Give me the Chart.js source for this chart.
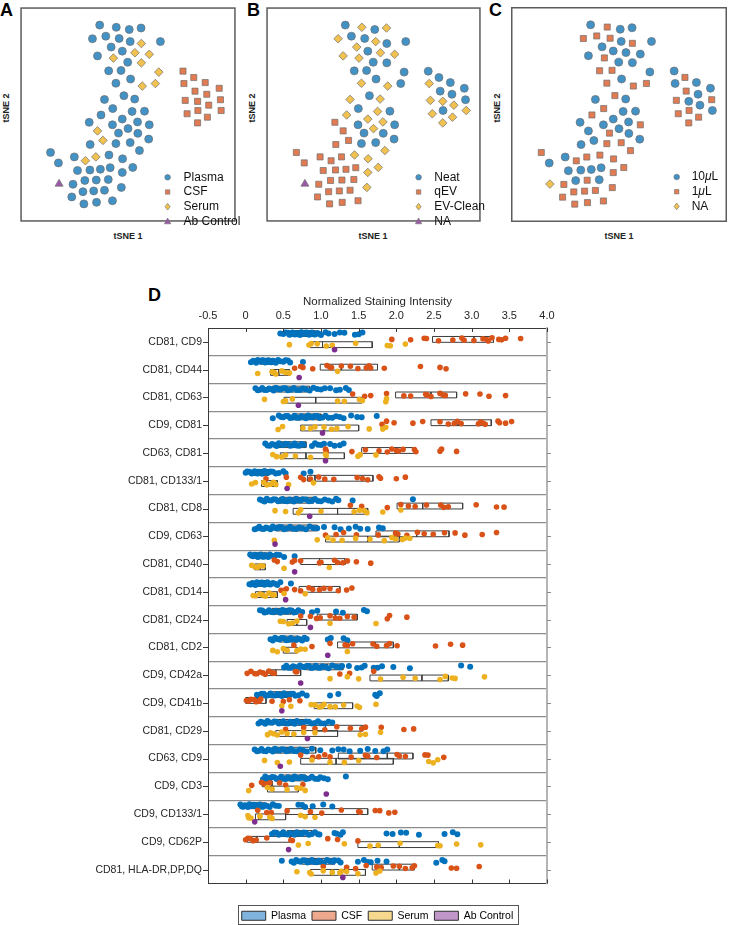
<!DOCTYPE html>
<html><head><meta charset="utf-8">
<script src="https://cdn.jsdelivr.net/npm/chart.js@4.4.1/dist/chart.umd.min.js"></script>
<style>
html,body{margin:0;padding:0;background:#fff;overflow:hidden;}
#wrap{position:relative;width:733px;height:925px;font-family:"Liberation Sans",Arial,Helvetica,sans-serif;}
.lab{position:absolute;font-weight:bold;color:#000;white-space:nowrap;}
.letter{font-size:18px;line-height:18px;}
.ax{font-size:9px;line-height:10px;color:#222;}
canvas{position:absolute;}
</style></head><body><div id="wrap">
<div class="lab letter" style="left:0px;top:1px">A</div>
<div class="lab letter" style="left:247px;top:1px">B</div>
<div class="lab letter" style="left:489px;top:1px">C</div>
<div class="lab letter" style="left:148px;top:286px">D</div>
<div class="lab ax" style="left:6px;top:108px;transform:translate(-50%,-50%) rotate(-90deg)">tSNE 2</div>
<div class="lab ax" style="left:252px;top:108px;transform:translate(-50%,-50%) rotate(-90deg)">tSNE 2</div>
<div class="lab ax" style="left:497px;top:108px;transform:translate(-50%,-50%) rotate(-90deg)">tSNE 2</div>
<div class="lab ax" style="left:128px;top:236px;transform:translate(-50%,-50%)">tSNE 1</div>
<div class="lab ax" style="left:373px;top:236px;transform:translate(-50%,-50%)">tSNE 1</div>
<div class="lab ax" style="left:619px;top:236px;transform:translate(-50%,-50%)">tSNE 1</div>
<canvas id="cA" width="226" height="225" style="left:15px;top:2px"></canvas>
<canvas id="cB" width="225" height="225" style="left:261px;top:2px"></canvas>
<canvas id="cC" width="226" height="225" style="left:506px;top:2px"></canvas>
<canvas id="cD" width="733" height="651" style="left:0px;top:280px"></canvas>
</div>
<script>
// ---------- tSNE panels (shared embedding, three colourings) ----------
const tsneX = [83.3,100.7,114.3,126.7,75.7,89.7,103.7,115.3,127,147,95.3,107,120.3,135.3,81,97.7,112.7,127,92.7,105.7,145.3,100.3,115.7,128,141.7,
 170.7,182,194,171.7,183.3,195.7,208.7,173,186,197.7,210,175,186.3,196.3,210.7,186,
 88.3,108.7,120,97,84.7,117.3,130.3,72.3,96.7,107,123,135.3,113,81,103,123.3,134.7,86.7,73.3,100.3,115.3,125,31.7,40,56.7,93,107.3,68.3,79.3,60,73,84,94.3,107,118,40.7,55.3,67.7,79.7,92.3,106,54,65.7,77,88.3,66.7,80,96.7];
const tsneY = [206.3,204,201.7,203.3,192,194.7,192.3,189,187,189,183.3,179,177.3,175.7,174,171.7,167.3,166.7,158.3,158.7,157,145.3,149.7,142.3,145,
 158,151.3,146,145,137,133.7,140,127.3,126.3,122.3,128,113.3,116.7,109.7,116.7,103.7,
 128.3,132.3,128.7,118.7,112,115.7,116,104.3,101.7,107.7,104.7,101.7,97.7,95.3,93,92.7,86.7,85.3,81,82,83,74.7,72.7,61.7,68,70,66,64,68,53.7,54.3,55,56.7,51.7,57,39.7,39.3,43.3,43.7,44.3,36,26,31.5,32.3,33,18.7,20.3,22];
const groupA = [0,0,0,0,0,0,0,0,2,0,0,0,2,2,0,2,0,2,0,0,2,0,0,2,2,
 1,1,1,1,1,1,1,1,1,1,1,1,1,1,1,1,
 0,0,0,0,0,0,0,0,0,0,0,0,0,2,0,0,0,2,0,0,0,0,0,0,0,0,0,2,2,0,0,0,0,0,0,3,0,0,0,0,0,0,0,0,0,0,0,0];
const groupB = [0,2,0,2,2,0,0,2,0,0,2,0,2,2,2,2,0,0,0,0,0,2,0,2,0,
 0,0,0,2,0,0,0,2,2,2,0,2,0,2,2,2,
 2,0,2,0,2,2,0,1,0,2,2,0,2,1,0,0,0,1,1,0,0,2,1,1,1,2,2,1,1,1,1,1,1,2,2,3,1,1,1,1,2,1,1,1,1,1,1,1];
const groupC = [0,1,0,0,1,1,1,0,1,0,0,0,0,0,0,1,0,0,1,1,0,1,0,1,1,
 0,1,0,0,1,0,0,1,0,0,1,1,1,1,0,1,
 0,1,0,1,1,0,0,0,0,0,0,1,0,0,1,0,0,0,0,1,1,1,1,0,0,1,1,1,1,0,0,0,0,1,1,2,1,0,1,0,1,1,1,1,1,1,1,1];
const legendA = ['Plasma','CSF','Serum','Ab Control'];
const legendB = ['Neat','qEV','EV-Clean','NA'];
const legendC = ['10\u03bcL','1\u03bcL','NA'];

// ---------- Panel D data ----------
const rowLabels = ['CD81, CD9','CD81, CD44','CD81, CD63','CD9, CD81','CD63, CD81','CD81, CD133/1','CD81, CD8','CD9, CD63','CD81, CD40','CD81, CD14','CD81, CD24','CD81, CD2','CD9, CD42a','CD9, CD41b','CD81, CD29','CD63, CD9','CD9, CD3','CD9, CD133/1','CD9, CD62P','CD81, HLA-DR,DP,DQ'];
const groupNames = ['Plasma','CSF','Serum','Ab Control'];
const plasmaVals = [
[0.46,0.5,0.53,0.56,0.58,0.6,0.62,0.64,0.66,0.68,0.7,0.72,0.74,0.76,0.78,0.8,0.82,0.84,0.86,0.88,0.9,0.92,0.95,0.97,1.0,1.06,1.1,1.18,1.25,1.31,1.45,1.5,1.55],
[0.07,0.1,0.12,0.14,0.16,0.18,0.2,0.22,0.24,0.26,0.28,0.3,0.32,0.34,0.36,0.38,0.4,0.43,0.46,0.5,0.53,0.56,0.59,0.76],
[0.13,0.16,0.19,0.22,0.25,0.28,0.31,0.34,0.37,0.4,0.43,0.46,0.5,0.53,0.56,0.6,0.64,0.68,0.72,0.76,0.8,0.85,0.9,0.95,1.0,1.05,1.12,1.2,1.25,1.33,1.37],
[0.36,0.44,0.47,0.5,0.53,0.56,0.59,0.62,0.65,0.68,0.71,0.74,0.77,0.8,0.83,0.86,0.89,0.92,0.95,0.98,1.02,1.06,1.1,1.15,1.2,1.25,1.3,1.4,1.48,1.54,1.74],
[0.26,0.29,0.32,0.35,0.38,0.41,0.44,0.47,0.5,0.53,0.56,0.59,0.62,0.65,0.68,0.71,0.74,0.77,0.88,0.92,0.96,1.0,1.04,1.12,1.18,1.25,1.3],
[0.0,0.02,0.05,0.08,0.1,0.12,0.14,0.16,0.18,0.2,0.22,0.25,0.28,0.3,0.33,0.36,0.4,0.44,0.5,0.53,0.77,0.86],
[0.19,0.22,0.25,0.28,0.31,0.34,0.37,0.4,0.43,0.46,0.49,0.52,0.55,0.58,0.61,0.64,0.67,0.7,0.73,0.76,0.8,0.84,0.88,0.92,0.96,1.0,1.05,1.1,1.15,1.2,1.23,1.42,2.22],
[0.12,0.15,0.18,0.21,0.24,0.27,0.3,0.33,0.36,0.39,0.42,0.45,0.48,0.51,0.55,0.59,0.63,0.67,0.71,0.75,0.8,0.85,0.9,0.95,1.04,1.18,1.26,1.37,1.46,1.52,1.62,1.77,1.82],
[0.06,0.08,0.1,0.12,0.14,0.16,0.18,0.2,0.22,0.24,0.26,0.28,0.3,0.32,0.35,0.38,0.41,0.45,0.51,0.65],
[0.05,0.07,0.09,0.11,0.13,0.15,0.17,0.19,0.21,0.23,0.25,0.27,0.29,0.31,0.33,0.36,0.39,0.42,0.46,0.6],
[0.19,0.22,0.25,0.28,0.31,0.34,0.37,0.4,0.43,0.46,0.49,0.52,0.55,0.58,0.61,0.64,0.67,0.7,0.75,0.88,0.95,1.2,1.29,1.57,1.61],
[0.33,0.36,0.39,0.42,0.45,0.48,0.51,0.54,0.57,0.6,0.63,0.66,0.69,0.72,0.75,0.78,0.81,1.09,1.13,1.3,1.35],
[0.51,0.54,0.57,0.6,0.63,0.66,0.69,0.72,0.75,0.78,0.81,0.84,0.87,0.9,0.93,0.96,0.99,1.02,1.06,1.1,1.15,1.2,1.25,1.28,1.37,1.48,1.54,1.58,1.7,1.75,1.81,1.96,2.18,2.86,2.98],
[0.15,0.18,0.21,0.24,0.27,0.3,0.33,0.36,0.39,0.42,0.45,0.48,0.51,0.54,0.57,0.6,0.63,0.66,0.7,0.75,0.81,1.12,1.23,1.72,1.74,1.78],
[0.17,0.2,0.23,0.26,0.29,0.32,0.35,0.38,0.41,0.44,0.47,0.5,0.53,0.56,0.59,0.62,0.65,0.68,0.72,0.76,0.8,0.84,0.88,0.92,0.96,1.0,1.05,1.1,1.15],
[0.12,0.15,0.18,0.21,0.24,0.27,0.3,0.33,0.36,0.39,0.42,0.45,0.48,0.51,0.54,0.57,0.6,0.64,0.68,0.72,0.76,0.81,0.88,0.99,1.15,1.23,1.3,1.38,1.52,1.62,1.72,1.83,1.88],
[0.23,0.26,0.29,0.32,0.35,0.38,0.41,0.44,0.47,0.5,0.53,0.56,0.59,0.62,0.65,0.68,0.71,0.74,0.77,0.8,0.84,0.88,0.92,0.96,0.99,1.04,1.09,1.33],
[-0.07,-0.05,-0.03,-0.01,0.01,0.03,0.05,0.07,0.09,0.11,0.13,0.15,0.17,0.19,0.21,0.23,0.26,0.29,0.32,0.36,0.4,0.44,0.7,0.75,0.79,0.89,1.03,1.15],
[0.35,0.38,0.41,0.44,0.47,0.5,0.53,0.56,0.59,0.62,0.65,0.68,0.71,0.74,0.77,0.8,0.84,0.88,0.92,0.96,0.98,1.18,1.21,1.26,1.29,1.87,1.95,2.06,2.13,2.3,2.64,2.75,2.81],
[0.48,0.61,0.64,0.67,0.7,0.73,0.76,0.79,0.82,0.85,0.88,0.91,0.94,0.97,1.0,1.04,1.08,1.12,1.16,1.18,1.23,1.26,1.49,1.57,1.62,1.66,1.75,1.87,2.53,2.61,2.64]
];
const csfVals = [
[1.94,2.19,2.37,2.4,2.56,2.75,2.87,2.9,3.03,3.15,3.2,3.22,3.27,3.36,3.4,3.45,3.65],
[0.65,0.73,0.76,0.89,1.08,1.12,1.14,1.27,1.39,1.49,1.6,1.64,1.66,1.84,2.32,2.58,2.66],
[1.42,1.58,1.66,1.87,2.1,2.19,2.39,2.41,2.46,2.58,2.62,2.65,2.92,3.11,3.23,3.45],
[1.81,1.87,1.97,2.22,2.35,2.58,2.69,2.77,2.81,2.86,3.09,3.12,3.15,3.18,3.35,3.37,3.45,3.53],
[1.06,1.07,1.41,1.59,1.77,1.88,1.94,2.0,2.03,2.09,2.24,2.26,2.58,2.6,2.8],
[0.27,0.54,0.73,0.77,0.86,0.97,1.05,1.17,1.48,1.55,1.62,1.77,1.79,2.0,2.12],
[1.39,1.54,1.88,2.06,2.16,2.25,2.4,2.59,2.63,2.69,3.06,3.33,3.43],
[1.06,1.2,1.3,1.47,1.76,1.99,2.02,2.14,2.28,2.37,2.49,2.64,2.78,2.91,3.14,3.33],
[0.38,0.42,0.62,0.65,0.73,0.98,1.0,1.18,1.22,1.29,1.35,1.47,1.66],
[0.47,0.5,0.54,0.65,0.73,0.84,0.89,0.98,1.04,1.12,1.23,1.34,1.41],
[0.73,0.86,0.94,0.99,1.12,1.19,1.25,1.35,1.44,1.88,1.91,2.14],
[0.64,0.88,1.12,1.32,1.35,1.42,1.69,1.74,1.87,1.91,2.01,2.52,2.72,2.88],
[0.02,0.07,0.12,0.15,0.19,0.23,0.26,0.31,0.35,0.38,0.66,0.68,1.25,1.38,1.7],
[0.01,0.04,0.07,0.11,0.14,0.18,0.2,0.35,0.5,0.58,0.72],
[0.53,0.77,0.92,1.05,1.21,1.39,1.54,1.59,1.8,2.1,2.23],
[0.73,0.89,0.97,1.05,1.12,1.4,1.59,1.62,1.74,2.01,2.04,2.12,2.38,2.42,2.63],
[0.08,0.21,0.24,0.27,0.32,0.45,0.53,0.76],
[0.16,0.28,0.34,0.55,0.86,1.01,1.27,1.5,1.52,1.72,1.78,1.9,1.98],
[0.0,0.03,0.06,0.1,0.14,0.28,0.6,0.62,1.09,1.22,1.49],
[1.03,1.34,1.46,1.6,1.74,1.8,1.96,2.04,2.12,2.21,2.24,2.73,2.8,3.1]
];
const serumVals = [
[0.58,0.84,0.87,0.95,1.07,1.15,1.46,1.88,1.92,2.12],
[0.16,0.35,0.38,0.4,0.48,0.53,0.58,1.22],
[0.25,0.5,0.53,0.62,1.22,1.31,1.51,1.55,1.86,1.87],
[0.43,0.49,0.76,0.86,0.92,1.04,1.14,1.21,1.36,1.64,1.82,1.86],
[0.36,0.41,0.48,0.53,0.66,0.86,1.06,1.07,1.49,1.52,1.73],
[0.08,0.13,0.24,0.28,0.33,0.37,0.4,0.57,0.9],
[0.39,0.53,0.7,0.73,1.0,1.44,1.51,1.57,1.61,1.82,2.06],
[0.38,0.95,1.09,1.16,1.28,1.46,1.65,1.84,1.94,1.99,2.08,2.12,2.18],
[0.08,0.12,0.16,0.19,0.23,0.51,1.11],
[0.1,0.13,0.19,0.22,0.26,0.31,0.35,0.38,0.51,0.79],
[0.46,0.5,0.57,0.62,0.68,1.12,1.73],
[0.36,0.42,0.5,0.55,0.68,0.73,0.79,1.35],
[1.12,1.35,1.5,1.79,2.09,2.25,2.58,2.65,2.74,2.78,3.17],
[0.48,0.6,0.87,0.92,0.98,1.01,1.04,1.12,1.19,1.3,1.48,1.51,1.73],
[0.29,0.33,0.37,0.42,0.48,0.55,0.64,0.77,0.92,1.52,1.59,1.79],
[0.25,0.42,0.58,0.88,1.12,1.31,1.5,2.43,2.49,2.55],
[0.04,0.29,0.35,0.55,0.68,0.73,0.79],
[0.03,0.04,0.07,0.19,0.32,0.35,0.73,0.79,0.92],
[0.7,0.83,1.31,1.65,1.76,2.05,2.55,2.58,2.8,3.12],
[0.68,0.85,0.87,1.03,1.15,1.25,1.27,1.34,1.49,1.73,1.78]
];
const controlVals = [1.18,0.71,0.7,1.02,1.06,0.55,0.85,0.39,0.65,0.53,0.86,1.09,0.73,0.48,0.82,0.46,1.07,0.12,0.57,1.29];
const plasmaQ1  = [0.62,0.2,0.35,0.62,0.42,0.12,0.45,0.4,0.14,0.13,0.35,0.45,0.8,0.3,0.42,0.35,0.45,0.05,0.55,0.75];
const plasmaMed = [0.76,0.28,0.55,0.8,0.56,0.2,0.66,0.6,0.2,0.19,0.48,0.58,1.08,0.45,0.62,0.55,0.62,0.14,0.7,0.92];
const plasmaQ3  = [0.92,0.38,0.85,1.0,0.8,0.3,0.9,0.95,0.28,0.27,0.6,0.7,1.29,0.6,0.85,0.93,0.8,0.25,0.88,1.18];
const csfQ1  = [2.48,0.99,1.99,2.46,1.54,0.82,2.01,1.73,0.73,0.71,0.95,1.22,0.28,0.0,0.92,1.23,0.22,0.53,0.02,1.68];
const csfMed = [3.03,1.27,2.46,2.82,2.0,0.92,2.35,2.27,0.98,0.98,1.19,1.72,0.4,0.15,1.06,1.88,0.27,0.86,0.15,2.04];
const csfQ3  = [3.29,1.75,2.8,3.26,2.25,1.69,2.88,2.7,1.32,1.25,1.48,1.96,0.73,0.27,1.55,2.22,0.35,1.62,0.59,2.24];
const serumQ1  = [0.86,0.33,0.51,0.73,0.46,0.21,0.63,1.06,0.12,0.13,0.55,0.5,1.65,0.91,0.4,0.73,0.29,0.13,1.49,0.86];
const serumMed = [1.02,0.44,0.93,1.04,0.8,0.28,1.22,1.62,0.19,0.24,0.68,0.55,2.34,1.01,0.53,1.2,0.37,0.17,2.04,1.13];
const serumQ3  = [1.68,0.58,1.54,1.5,1.31,0.42,1.62,2.04,0.26,0.42,0.81,0.68,2.69,1.42,1.22,1.96,0.7,0.53,2.56,1.59];

// ---------- styles ----------
const F = '"Liberation Sans", Arial, Helvetica, sans-serif';
Chart.defaults.font.family = F;
const TS_COL = ['#4292c6','#e27b52','#f2c250','#9b59aa'];
const TS_SHAPE = ['circle','rect','rectRot','triangle'];
const TS_R = [4,4.3,4.3,4.6];

function drawMarker(ctx, shape, x, y, col){
  ctx.save(); ctx.fillStyle = col; ctx.strokeStyle = '#6e6e6e'; ctx.lineWidth = 0.6;
  ctx.beginPath();
  if (shape==='circle'){ ctx.arc(x,y,2.8,0,Math.PI*2); }
  else if (shape==='rect'){ ctx.rect(x-2.2,y-2.2,4.4,4.4); }
  else if (shape==='rectRot'){ ctx.moveTo(x,y-3.4); ctx.lineTo(x+2.6,y); ctx.lineTo(x,y+3.4); ctx.lineTo(x-2.6,y); ctx.closePath(); }
  else { ctx.moveTo(x,y-3.4); ctx.lineTo(x+3.2,y+2.4); ctx.lineTo(x-3.2,y+2.4); ctx.closePath(); }
  ctx.fill(); ctx.stroke(); ctx.restore();
}
const tsnePlugin = {
  id:'tsneDeco',
  afterDraw(chart, args, opts){
    const {ctx, chartArea:a} = chart;
    ctx.save();
    ctx.strokeStyle = '#5c5c5c'; ctx.lineWidth = 1.5;
    ctx.strokeRect(a.left+0.75, a.top+0.75, a.right-a.left-1.5, a.bottom-a.top-1.5);
    ctx.textBaseline = 'middle'; ctx.fillStyle = '#111';
    opts.labels.forEach((lab, i) => {
      const y = a.top + 170 + i*14.7;
      drawMarker(ctx, opts.shapes[i], a.left + opts.mx, y, opts.colors[i]);
      let x = a.left + opts.tx;
      const parts = lab.split('\u03bc');
      parts.forEach((p, k) => {
        ctx.font = '12px ' + F; ctx.fillStyle = '#111';
        ctx.fillText(p, x, y); x += ctx.measureText(p).width;
        if (k < parts.length-1){ ctx.font = 'italic 12px ' + F; ctx.fillText('\u03bc', x, y); x += ctx.measureText('\u03bc').width; }
      });
    });
    ctx.restore();
  }
};
function tsneChart(id, groups, labels, shapes, colors, radii, mx, tx){
  const datasets = labels.map((lab, g) => ({
    label: lab,
    data: tsneX.map((x,i)=>({x:x, y:tsneY[i]})).filter((_,i)=>groups[i]===g),
    pointStyle: shapes[g], pointRadius: radii[g], backgroundColor: colors[g],
    borderColor:'#6e6e6e', borderWidth:0.7
  }));
  new Chart(document.getElementById(id), {
    type:'scatter', data:{datasets},
    options:{responsive:false, animation:false, events:[], layout:{padding:0},
      scales:{x:{display:false,min:0,max:226}, y:{display:false,min:0,max:225}},
      plugins:{legend:{display:false}, tooltip:{enabled:false},
        tsneDeco:{labels, shapes, colors, mx, tx}}},
    plugins:[tsnePlugin]
  });
}
tsneChart('cA', groupA, legendA, TS_SHAPE, TS_COL, TS_R, 147.3, 163.3);
tsneChart('cB', groupB, legendB, TS_SHAPE, TS_COL, TS_R, 152.3, 168);
tsneChart('cC', groupC, legendC, ['circle','rect','rectRot'], [TS_COL[0],TS_COL[1],TS_COL[2]], [4,4.3,4.3], 165.7, 180.7);

// ---------- Panel D ----------
const D_COL = ['#0072BD','#D95319','#EDB120','#7E2F8E'];
const D_FILL = ['#80b4de','#eea88d','#f6d98e','#c197c9'];
const OFF = [0.2, 0.41, 0.6, 0.78];
const JIT = [0,0.05,-0.04,0.07,-0.06,0.02,-0.03,0.06,-0.07,0.04,-0.05,0.01,0.03];
function pts(vals, g, amp){
  const out = [];
  vals.forEach((row, r) => row.forEach((v, i) => out.push({x:v, y:r + OFF[g] + JIT[(i*5 + r) % JIT.length]*amp})));
  return out;
}
const H = 0.105;
const boxData = [];
[[plasmaQ1,plasmaMed,plasmaQ3],[csfQ1,csfMed,csfQ3],[serumQ1,serumMed,serumQ3]].forEach((b, g) => {
  rowLabels.forEach((_, r) => {
    const yc = r + OFF[g], q1 = b[0][r], m = b[1][r], q3 = b[2][r];
    boxData.push({x:q1,y:yc-H},{x:q3,y:yc-H},{x:q3,y:yc+H},{x:q1,y:yc+H},{x:q1,y:yc-H},{x:q1,y:null},
                 {x:m,y:yc-H},{x:m,y:yc+H},{x:m,y:null});
  });
});
const innerTicks = {
  id:'innerTicks',
  afterDraw(chart){
    const {ctx, chartArea:a, scales} = chart;
    ctx.save(); ctx.lineWidth = 1;
    ctx.strokeStyle = '#3a3a3a';
    scales.x.ticks.forEach(t => {
      const px = Math.round(scales.x.getPixelForValue(t.value)) + 0.5;
      ctx.beginPath(); ctx.moveTo(px, a.top); ctx.lineTo(px, a.top+4); ctx.moveTo(px, a.bottom); ctx.lineTo(px, a.bottom-4); ctx.stroke();
    });
    scales.y.ticks.forEach(t => {
      const py = Math.round(scales.y.getPixelForValue(t.value)) + 0.5;
      ctx.strokeStyle = '#3a3a3a';
      ctx.beginPath(); ctx.moveTo(a.left, py); ctx.lineTo(a.left-5, py); ctx.stroke();
      ctx.strokeStyle = '#8a8a8a';
      ctx.beginPath(); ctx.moveTo(a.right, py); ctx.lineTo(a.right+4, py); ctx.stroke();
    });
    // legend frame
    const hb = chart.legend && chart.legend.legendHitBoxes;
    if (hb && hb.length){
      const l = Math.min(...hb.map(h=>h.left)) - 4;
      const r = Math.max(...hb.map(h=>h.left+h.width)) + 4;
      const t = hb[0].top - 6, b = hb[0].top + hb[0].height + 2;
      ctx.strokeStyle = '#555'; ctx.lineWidth = 1;
      ctx.strokeRect(Math.round(l)+0.5, Math.round(t)+0.5, Math.round(r-l), Math.round(b-t));
    }
    ctx.restore();
  }
};
const dDatasets = [
  {type:'line', label:'boxes', data:boxData, borderColor:'#3c3c3c', borderWidth:1, pointRadius:0, fill:false, spanGaps:false, order:10, xAxisID:'x', yAxisID:'y'},
  {label:groupNames[0], data:pts(plasmaVals,0,0.7), backgroundColor:D_COL[0], borderWidth:0, pointRadius:3, order:4, xAxisID:'x', yAxisID:'y'},
  {label:groupNames[1], data:pts(csfVals,1,0.8), backgroundColor:D_COL[1], borderWidth:0, pointRadius:2.8, order:3, xAxisID:'x', yAxisID:'y'},
  {label:groupNames[2], data:pts(serumVals,2,0.8), backgroundColor:D_COL[2], borderWidth:0, pointRadius:2.8, order:2, xAxisID:'x', yAxisID:'y'},
  {label:groupNames[3], data:controlVals.map((v,r)=>({x:v, y:r+OFF[3]})), backgroundColor:D_COL[3], borderWidth:0, pointRadius:2.8, order:1, xAxisID:'x', yAxisID:'y'}
];
new Chart(document.getElementById('cD'), {
  type:'scatter',
  data:{datasets:dDatasets},
  options:{
    responsive:false, animation:false, events:[],
    layout:{padding:{left:0,right:186,top:0,bottom:0}},
    scales:{
      x:{type:'linear', position:'top', min:-0.5, max:4,
         ticks:{stepSize:0.5, padding:5, color:'#262626', font:{size:11}, autoSkip:false, maxRotation:0},
         grid:{display:false, drawTicks:false},
         border:{display:true, color:'#3a3a3a', width:1},
         title:{display:true, text:'Normalized Staining Intensity', color:'#262626', font:{size:11.5}, padding:{top:15,bottom:0}},
         afterFit:s=>{s.height=48;}},
      xb:{type:'linear', position:'bottom', min:-0.5, max:4,
         ticks:{display:false}, grid:{display:false, drawTicks:false},
         border:{display:true, color:'#3a3a3a', width:1},
         afterFit:s=>{s.height=21;}},
      y:{type:'linear', position:'left', min:0, max:rowLabels.length, reverse:true,
         afterBuildTicks:s=>{s.ticks = rowLabels.map((_,i)=>({value:i+0.5}));},
         ticks:{autoSkip:false, padding:6, color:'#262626', font:{size:10.5}, callback:v=>rowLabels[Math.floor(v)]},
         grid:{display:false, drawTicks:false},
         border:{display:true, color:'#3a3a3a', width:1},
         afterFit:s=>{s.width=208;}},
      yr:{type:'linear', position:'right', min:0, max:rowLabels.length, reverse:true,
         ticks:{display:false, stepSize:1},
         grid:{display:true, drawTicks:false, lineWidth:1.3,
               color:c=>(c.tick && (c.tick.value===0 || c.tick.value===rowLabels.length)) ? 'rgba(0,0,0,0)' : '#8c8c8c'},
         border:{display:true, color:'#b4b4b4', width:2},
         afterFit:s=>{s.width=0;}}
    },
    plugins:{
      tooltip:{enabled:false},
      legend:{display:true, position:'bottom', fullSize:false,
        labels:{boxWidth:24, boxHeight:9, padding:6, color:'#000', font:{size:10.5},
          generateLabels:()=>groupNames.map((t,i)=>({text:t, fillStyle:D_FILL[i], strokeStyle:'#2e2e2e', lineWidth:1, hidden:false, datasetIndex:i+1, fontColor:'#000'}))}}
    }
  },
  plugins:[innerTicks]
});
</script>
</body></html>
